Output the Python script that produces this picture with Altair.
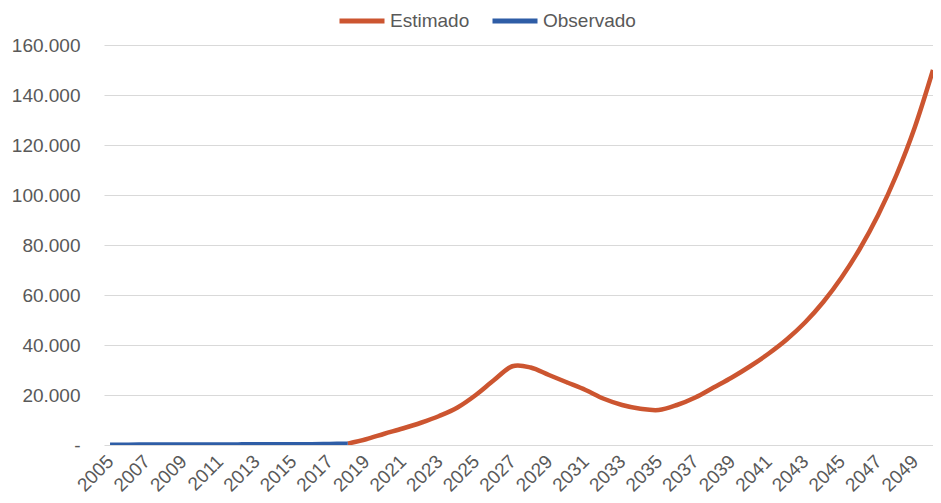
import altair as alt
import pandas as pd

obs_years = list(range(2005, 2019))
obs_values = [150, 150, 180, 200, 200, 220, 230, 250, 260, 280, 300, 350, 450, 550]

est_years = list(range(2018, 2051))
est_values = [550, 2300, 4500, 6600, 8900, 11600, 15000, 20000, 26000, 31500,
              31000, 28000, 25000, 22000, 18500, 16000, 14500, 14000, 16000, 19000,
              23000, 27000, 31500, 36500, 42200, 49000, 57200, 67000, 78500, 92000,
              108000, 127000, 150000]

series_names = ["Estimado", "Observado"]
series_colors = ["#CC5530", "#2E5DA6"]

df = pd.concat([
    pd.DataFrame({"serie": "Estimado", "ano": est_years, "valor": est_values}),
    pd.DataFrame({"serie": "Observado", "ano": obs_years, "valor": obs_values}),
])

font = "Liberation Sans"
gray = "#595959"

chart = alt.Chart(df).mark_line(strokeWidth=4.5, interpolate="cardinal", clip=True).encode(
    x=alt.X("ano:Q",
            scale=alt.Scale(domain=[2004.67, 2050.0], nice=False, zero=False),
            axis=alt.Axis(values=list(range(2005, 2050, 2)), format="d", title=None,
                          labelAngle=-45, labelAlign="right", labelBaseline="middle",
                          labelPadding=13, ticks=False, domain=False, grid=False,
                          labelFont=font, labelFontSize=19, labelColor=gray,
                          labelOverlap=False, labelFlush=False)),
    y=alt.Y("valor:Q",
            scale=alt.Scale(domain=[0, 160000], nice=False),
            axis=alt.Axis(values=list(range(0, 160001, 20000)), title=None,
                          labelExpr="datum.value == 0 ? '-\u00a0\u00a0' : format(datum.value/1000, 'd') + '.000'",
                          ticks=False, domain=False, grid=True, gridColor="#d9d9d9", gridWidth=1.2,
                          labelPadding=24, labelFont=font, labelFontSize=19, labelColor=gray)),
    color=alt.Color("serie:N",
                    scale=alt.Scale(domain=series_names, range=series_colors),
                    legend=alt.Legend(title=None, orient="none", direction="horizontal",
                                      legendX=233, legendY=-49,
                                      symbolType="stroke", symbolStrokeWidth=5, symbolSize=2025,
                                      labelFont=font, labelFontSize=19, labelColor=gray,
                                      labelOffset=3, columnPadding=12)),
    order=alt.Order("serie:N"),
).properties(
    width=829, height=400,
    autosize=alt.AutoSizeParams(type="none"),
    padding={"left": 96, "top": 37, "right": 0, "bottom": 50},
).configure_view(stroke=None)

chart.save("out.html", embed_options={"renderer": "svg", "actions": False})
